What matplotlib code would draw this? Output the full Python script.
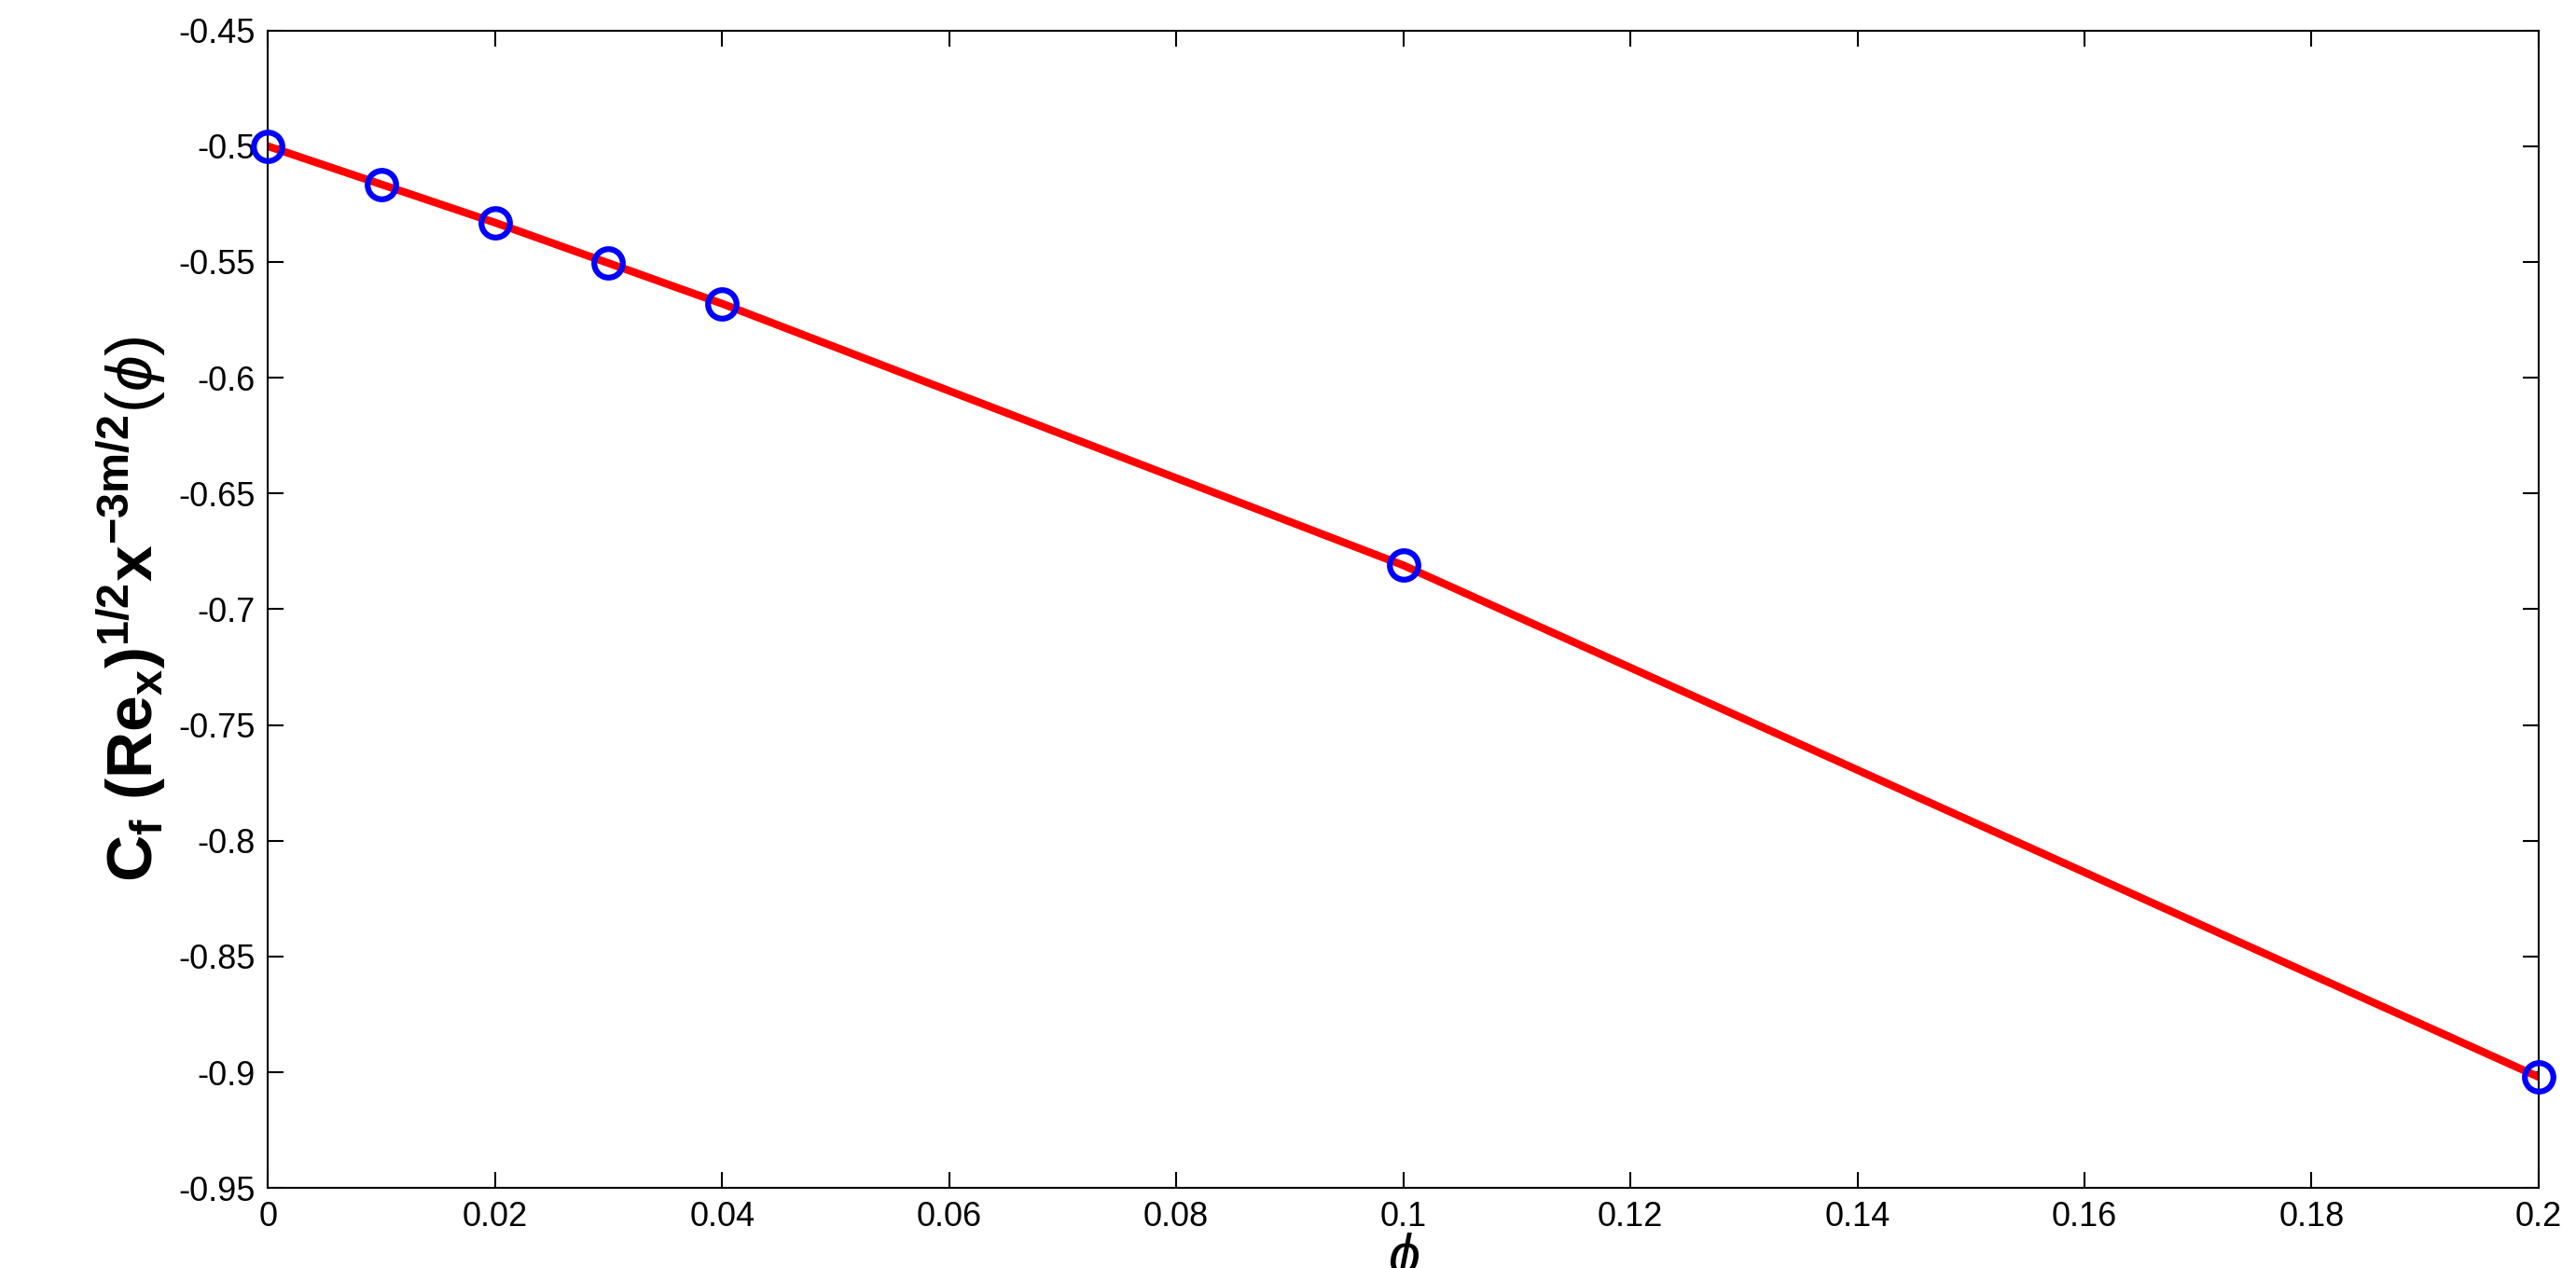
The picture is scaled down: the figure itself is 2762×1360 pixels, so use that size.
import matplotlib
matplotlib.use("Agg")
import matplotlib.pyplot as plt
import numpy as np

phi = [0, 0.01, 0.02, 0.03, 0.04, 0.1, 0.2]
cf = [-0.5, -0.5165, -0.533, -0.5505, -0.568, -0.681, -0.902]
xticks = np.round(np.arange(0, 0.2001, 0.02), 2)
yticks = np.round(np.arange(-0.95, -0.449, 0.05), 2)

plt.rcParams['font.family'] = ['Liberation Sans', 'DejaVu Sans']
plt.rcParams['mathtext.fontset'] = 'custom'
plt.rcParams['mathtext.rm'] = 'Liberation Sans'
plt.rcParams['mathtext.it'] = 'Liberation Sans:italic'
plt.rcParams['mathtext.bf'] = 'Liberation Sans:bold'

fig = plt.figure(figsize=(27.62, 13.6), dpi=100)
ax = fig.add_axes([0.104, 0.063, 0.8815, 0.913])
ax.plot(phi, cf, color='red', lw=6, zorder=2)
ax.plot(phi, cf, 'o', mfc='none', mec='blue', mew=4.5, ms=22, zorder=3, clip_on=False)
ax.set_xlim(0, 0.2)
ax.set_ylim(-0.95, -0.45)
ax.set_xticks(xticks)
ax.set_xticklabels([f"{v:g}" for v in xticks])
ax.set_yticks(yticks)
ax.set_yticklabels([f"{v:g}" for v in yticks])
ax.tick_params(labelsize=26, direction='in', length=12, top=True, right=True, width=1.5, pad=10)
for s in ax.spines.values():
    s.set_linewidth(1.5)
ax.set_xlabel(r'$\phi$', fontsize=44, labelpad=-2)
ax.set_ylabel(r'$\mathbf{C_f\ (Re_x)^{1/2}x^{-3m/2}}(\phi)$', fontsize=50, labelpad=8)
fig.savefig('out.png', dpi=100, facecolor='white')
